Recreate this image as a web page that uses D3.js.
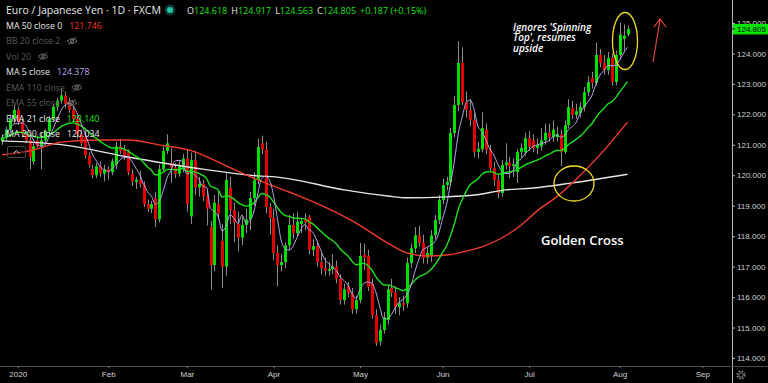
<!DOCTYPE html>
<html><head><meta charset="utf-8">
<script src="https://cdn.jsdelivr.net/npm/d3@7"></script>
<style>html,body{margin:0;padding:0;background:#000;overflow:hidden}</style>
</head><body>
<svg id="c" width="768" height="383"></svg>
<script>
// ---- data (EUR/JPY daily) ----
const opens = [121.10,121.25,121.50,121.85,122.15,121.75,121.35,121.15,120.45,121.15,
120.95,121.15,121.45,121.85,122.25,122.45,122.62,122.40,122.15,121.85,
121.35,121.25,120.65,120.20,120.00,120.30,120.05,120.20,120.10,120.35,
120.95,120.85,120.75,120.05,119.78,119.85,119.68,119.05,118.90,119.25,
118.55,120.20,120.80,120.40,120.25,120.05,120.20,120.55,118.65,120.50,
119.60,119.72,119.30,118.30,117.05,119.05,117.85,117.00,119.60,118.85,
118.40,117.95,118.37,118.55,119.25,119.85,121.05,120.85,118.96,118.60,
117.45,117.05,117.15,117.70,118.37,118.10,118.40,118.55,118.63,117.55,
117.68,117.15,116.95,116.86,116.92,117.00,116.60,115.90,116.36,116.13,
115.60,115.90,117.40,117.35,116.46,115.41,114.55,114.92,115.25,116.30,
116.15,115.67,115.80,115.80,117.12,117.60,118.03,117.78,117.30,117.35,
118.03,118.53,119.19,119.68,119.78,121.39,122.31,123.69,122.40,122.15,
121.82,120.77,120.85,121.50,120.83,120.24,119.85,119.42,120.34,120.42,
120.30,120.10,120.77,120.75,121.22,121.15,120.90,120.95,121.15,121.40,
121.25,121.25,121.35,120.77,121.65,122.20,121.98,122.05,122.24,122.73,
123.20,123.03,123.95,123.69,123.45,123.85,123.06,123.95,124.48,124.618];
const highs = [121.35,121.60,122.00,122.30,122.25,121.85,121.45,121.25,121.05,121.30,
121.40,121.50,121.95,122.35,122.55,122.85,122.75,122.55,122.25,121.95,
121.50,121.40,120.75,120.35,120.40,120.45,120.35,120.30,120.55,121.10,
121.20,121.00,120.85,120.20,119.95,120.15,119.80,119.20,119.15,119.45,
120.35,120.95,121.35,120.90,120.40,120.50,120.70,120.85,120.75,120.80,
119.95,119.85,119.50,118.50,119.35,119.50,118.40,120.10,119.95,119.10,
118.80,118.65,118.90,119.45,120.10,121.20,121.30,121.10,119.10,118.90,
117.70,117.40,117.80,118.70,118.75,118.80,118.60,118.75,118.70,117.90,
117.85,117.45,117.30,117.15,117.40,117.20,116.75,116.45,116.50,116.30,
116.05,117.78,117.75,117.55,116.60,115.60,115.10,115.50,116.40,116.60,
116.35,116.00,116.05,117.30,117.75,118.30,118.35,118.05,117.65,118.20,
118.70,119.35,119.90,119.95,121.55,122.60,124.40,124.20,122.75,122.50,
122.05,121.10,122.08,121.70,121.00,120.45,120.00,120.50,121.05,120.60,
120.55,120.85,121.05,121.40,121.45,121.35,121.20,121.55,121.70,121.70,
121.80,121.60,121.50,121.80,122.50,122.45,122.35,122.40,122.90,123.25,
123.40,124.35,124.15,123.95,124.05,124.00,124.10,125.00,124.95,124.917];
const lows = [121.00,121.15,121.40,121.70,121.65,121.25,121.05,120.20,120.35,120.90,
120.20,121.00,121.35,121.75,122.10,122.35,122.20,122.05,121.75,121.20,
120.95,120.55,120.25,119.90,119.90,119.95,119.80,119.85,120.00,120.20,
120.70,120.50,120.00,119.65,119.55,119.60,118.95,118.80,118.75,118.30,
118.45,120.10,120.70,119.75,119.90,119.95,120.10,118.80,118.40,119.35,
119.30,119.15,118.35,116.25,116.85,118.55,116.30,116.70,118.40,117.80,
117.50,117.70,118.10,118.20,119.00,119.70,120.70,118.75,118.05,117.20,
116.35,116.85,116.95,117.55,117.90,118.00,118.10,118.20,117.40,117.35,
117.00,116.75,116.70,116.70,116.75,116.45,115.75,115.75,116.00,115.45,
115.45,115.80,116.90,116.20,115.30,114.40,114.40,114.80,115.10,116.00,
115.45,115.40,115.55,115.65,116.95,117.45,117.65,117.10,117.10,117.15,
117.90,118.40,119.05,119.50,119.65,121.25,122.10,122.30,121.90,121.60,
120.60,120.55,120.75,120.70,120.10,119.65,119.25,119.30,120.20,119.90,
119.95,119.75,120.60,120.65,120.80,120.75,120.70,120.80,121.00,121.10,
121.10,121.10,120.30,120.70,121.55,121.85,121.85,121.90,122.10,122.60,
122.85,122.95,123.55,123.30,123.30,122.95,122.95,123.80,124.10,124.563];
const closes = [121.25,121.50,121.85,122.15,121.75,121.35,121.15,120.60,120.95,120.95,
121.15,121.45,121.85,122.25,122.45,122.62,122.35,122.15,121.85,121.35,
121.05,120.65,120.35,120.00,120.30,120.05,120.20,120.10,120.45,120.95,
120.80,120.65,120.10,119.80,119.85,119.70,119.05,118.90,119.05,118.55,
120.20,120.80,121.05,120.25,120.05,120.30,120.55,119.05,120.50,119.60,
119.72,119.30,118.90,117.05,119.10,118.75,117.00,119.85,118.85,118.45,
117.95,118.37,118.55,119.25,119.85,120.93,120.85,118.96,118.60,117.45,
117.05,117.15,117.70,118.37,118.10,118.47,118.50,118.45,117.55,117.68,
117.15,116.95,116.86,116.92,117.00,116.60,115.90,116.26,116.13,115.60,
115.90,117.35,117.30,116.33,115.41,114.50,114.92,115.33,116.26,116.15,
115.67,115.80,115.73,117.12,117.60,118.03,117.78,117.28,117.45,118.03,
118.53,119.19,119.68,119.78,121.39,122.31,123.69,122.40,122.15,121.82,
120.77,120.87,121.55,120.83,120.24,119.85,119.42,120.34,120.42,120.30,
120.36,120.77,120.90,121.22,120.93,120.90,121.00,121.15,121.40,121.25,
121.50,121.35,120.77,121.65,122.24,121.98,122.10,122.24,122.73,123.06,
123.03,123.95,123.69,123.45,123.85,123.06,123.95,124.62,124.58,124.805];

const startDate = "2019-12-26";
const monthTickDates = ["2020-01-01","2020-02-03","2020-03-02","2020-04-01","2020-05-01","2020-06-01","2020-07-01","2020-08-03","2020-09-01"];
const monthTickLabels = ["2020","Feb","Mar","Apr","May","Jun","Jul","Aug","Sep"];
const priceTicks = [114,115,116,117,118,119,120,121,122,123,124,125];

const ma50Idx = [0,8,15,25,32,40,49,57,65,73,82,90,98,103,108,113,118,122,127,131,137,141,145,152,159];
const ma50Val = [120.67,120.83,121.09,121.16,121.16,121.0,120.77,120.31,119.85,119.45,118.96,118.43,117.78,117.45,117.35,117.38,117.51,117.65,117.94,118.27,118.93,119.29,119.75,120.67,121.746];
const ma200Idx = [0,16,32,49,65,70,87,98,103,113,120,128,135,145,159];
const ma200Val = [121.13,120.99,120.6,120.24,119.98,119.94,119.52,119.32,119.26,119.29,119.35,119.52,119.58,119.75,120.034];
const ema21Seed = 121.22;

const headerOHLC = [["O","124.618"],["H","124.917"],["L","124.563"],["C","124.805"]];
const headerChange = "+0.187 (+0.15%)";
const legendRows = [
  {label:"MA 50 close 0", value:"121.746", color:"#f23a2e", on:true},
  {label:"BB 20 close 2", value:null, on:false},
  {label:"Vol 20", value:null, on:false},
  {label:"MA 5 close", value:"124.378", color:"#b7a6e8", on:true},
  {label:"EMA 110 close", value:null, on:false},
  {label:"EMA 55 close", value:null, on:false},
  {label:"EMA 21 close", value:"123.140", color:"#1de21d", on:true},
  {label:"MA 200 close", value:"120.034", color:"#e6e6e6", on:true}
];
const lastPrice = "124.805";

// ---- helpers ----
function weekdayIndex(ds){
  const s = new Date(startDate+"T00:00:00Z"), e = new Date(ds+"T00:00:00Z");
  let n=0; for(let d=new Date(s); d<e; d.setUTCDate(d.getUTCDate()+1)){const w=d.getUTCDay(); if(w!==0&&w!==6) n++;}
  return n;
}
const bars = closes.map((c,i)=>({i,o:opens[i],h:highs[i],l:lows[i],c}));
const ma5 = closes.map((c,i)=>{const s=closes.slice(Math.max(0,i-4),i+1);return d3.mean(s);});
const k=2/22; const ema21=[]; closes.forEach((c,i)=>{ema21.push(i===0?ema21Seed:ema21[i-1]+k*(c-ema21[i-1]));});

const svg = d3.select("#c");
const W=768,H=383, plotR=732, plotB=366;
svg.append("rect").attr("width",W).attr("height",H).attr("fill","#000");

const x = d3.scaleLinear().domain([0,159]).range([2,627.5]);
const y = d3.scaleLinear().domain([114,125]).range([358,23]);

svg.append("defs").append("clipPath").attr("id","clip").append("rect").attr("x",0).attr("y",0).attr("width",plotR).attr("height",plotB);
const plot = svg.append("g").attr("clip-path","url(#clip)");

// candles
const up="#00e000", dn="#e50000";
plot.selectAll(".wick").data(bars).join("line")
  .attr("x1",d=>Math.round(x(d.i))+0.5).attr("x2",d=>Math.round(x(d.i))+0.5)
  .attr("y1",d=>y(d.h)).attr("y2",d=>y(d.l)).attr("stroke","#8c8c8c").attr("stroke-width",1);
plot.selectAll(".body").data(bars).join("rect")
  .attr("x",d=>Math.round(x(d.i))-1).attr("width",3)
  .attr("y",d=>y(Math.max(d.o,d.c))).attr("height",d=>Math.max(1,Math.abs(y(d.o)-y(d.c))))
  .attr("fill",d=>d.c>=d.o?up:dn);

// moving averages
const lineIdx = d3.line().x(d=>x(d[0])).y(d=>y(d[1])).curve(d3.curveMonotoneX);
plot.append("path").datum(ma200Idx.map((v,j)=>[v,ma200Val[j]])).attr("d",lineIdx).attr("fill","none").attr("stroke","#e6e6e6").attr("stroke-width",1.4);
plot.append("path").datum(ma50Idx.map((v,j)=>[v,ma50Val[j]])).attr("d",lineIdx).attr("fill","none").attr("stroke","#f23a2e").attr("stroke-width",1.4);
plot.append("path").datum(ema21.map((v,j)=>[j,v])).attr("d",lineIdx).attr("fill","none").attr("stroke","#1de21d").attr("stroke-width",1.4);
plot.append("path").datum(ma5.map((v,j)=>[j,v])).attr("d",lineIdx).attr("fill","none").attr("stroke","#b7a6e8").attr("stroke-width",1);

// annotations
const ann = svg.append("g");
ann.append("ellipse").attr("cx",625).attr("cy",41).attr("rx",12.5).attr("ry",28.5).attr("fill","none").attr("stroke","#f2df2a").attr("stroke-width",1.3);
ann.append("ellipse").attr("cx",574).attr("cy",183.5).attr("rx",20).attr("ry",17.5).attr("fill","none").attr("stroke","#f2df2a").attr("stroke-width",1.3);
ann.append("line").attr("x1",653).attr("y1",62).attr("x2",660).attr("y2",20).attr("stroke","#e8453c").attr("stroke-width",1.2);
ann.append("path").attr("d","M654,27 L660,19 L666,27").attr("fill","none").attr("stroke","#e8453c").attr("stroke-width",1.2);
const t1 = ann.append("text").attr("x",513).attr("font-family","'Open Sans',sans-serif").attr("font-size",10).attr("font-style","italic").attr("font-weight",600).attr("fill","#fff");
["Ignores 'Spinning","Top', resumes","upside"].forEach((s,j)=>t1.append("tspan").attr("x",513).attr("y",30.5+j*10.6).text(s));
ann.append("text").attr("x",541).attr("y",245).attr("font-family","'Open Sans',sans-serif").attr("font-size",13).attr("font-weight",600).attr("fill","#fff").text("Golden Cross");

// axes
const AF="'Liberation Sans',Arial,sans-serif";
svg.append("line").attr("x1",plotR+0.5).attr("x2",plotR+0.5).attr("y1",0).attr("y2",H).attr("stroke","#b4b4b4");
svg.append("line").attr("x1",0).attr("x2",W).attr("y1",plotB+0.5).attr("y2",plotB+0.5).attr("stroke","#4a4a4a");
const yAxis = svg.append("g").attr("transform",`translate(${plotR},0)`)
  .call(d3.axisRight(y).tickValues(priceTicks).tickFormat(d3.format(".3f")).tickSize(3).tickPadding(2));
yAxis.select(".domain").remove();
yAxis.selectAll("line").attr("stroke","#b4b4b4");
yAxis.selectAll("text").attr("fill","#d0d0d0").attr("font-size",8).attr("font-family",AF);

const tickIdx = monthTickDates.map(weekdayIndex);
const xAxis = svg.append("g").attr("transform",`translate(0,${plotB})`)
  .call(d3.axisBottom(x).tickValues(tickIdx).tickFormat((d,j)=>monthTickLabels[j]).tickSize(2).tickPadding(3));
xAxis.select(".domain").remove();
xAxis.selectAll("line").attr("stroke","#777");
xAxis.selectAll("text").attr("fill","#d0d0d0").attr("font-size",8).attr("font-family",AF);

// price tag
const ty = y(+lastPrice);
svg.append("rect").attr("x",plotR+1).attr("y",ty-5).attr("width",W-plotR-1).attr("height",10.5).attr("fill","#00e600");
svg.append("line").attr("x1",plotR).attr("x2",plotR+3).attr("y1",ty).attr("y2",ty).attr("stroke","#000");
svg.append("text").attr("x",737).attr("y",ty+3).attr("font-size",8).attr("font-family",AF).attr("fill","#000").text(lastPrice);

// gear icon
const gear = svg.append("g").attr("transform","translate(741,375)");
gear.append("circle").attr("r",3.8).attr("fill","none").attr("stroke","#8a8a8a").attr("stroke-width",1.6).attr("stroke-dasharray","1.6 1.4");
gear.append("circle").attr("r",2.2).attr("fill","none").attr("stroke","#8a8a8a").attr("stroke-width",0.9);

// header
const F="'Open Sans',sans-serif";
svg.append("text").attr("x",6).attr("y",14).attr("font-family",F).attr("font-size",10.5).attr("fill","#e8e8e8").text("Euro / Japanese Yen · 1D · FXCM");
svg.append("circle").attr("cx",170).attr("cy",10).attr("r",5.5).attr("fill","#0f3b36");
svg.append("circle").attr("cx",170).attr("cy",10).attr("r",3).attr("fill","#26c6a6");
const hdr = svg.append("text").attr("x",187).attr("y",13.5).attr("font-family",F).attr("font-size",9);
headerOHLC.forEach(([l,v],j)=>{hdr.append("tspan").attr("fill","#e8e8e8").attr("dx",j?4:0).text(l);hdr.append("tspan").attr("fill","#1de21d").text(v);});
hdr.append("tspan").attr("fill","#1de21d").attr("dx",4).text(headerChange);

// legend rows
function eye(g,cx,cy){
  const e=g.append("g").attr("transform",`translate(${cx},${cy})`).attr("stroke","#6a6a6a").attr("fill","none").attr("stroke-width",1);
  e.append("path").attr("d","M-5,0 Q0,-5 5,0 Q0,5 -5,0 Z");
  e.append("circle").attr("r",1.6);
  e.append("line").attr("x1",-4).attr("y1",4).attr("x2",4).attr("y2",-4);
}
const leg = svg.append("g");
legendRows.forEach((r,j)=>{
  const cy = 25.5 + j*15.5;
  const t = leg.append("text").attr("x",6).attr("y",cy+3).attr("font-family",F).attr("font-size",8.8).attr("fill",r.on?"#e8e8e8":"#5a5a5a").text(r.label);
  const w = t.node().getComputedTextLength();
  if(r.value){
    leg.append("text").attr("x",6+w+7).attr("y",cy+3).attr("font-family",F).attr("font-size",8.8).attr("fill",r.color).text(r.value);
  } else {
    eye(leg,6+w+12,cy);
  }
});
// collapse button
leg.append("rect").attr("x",7.5).attr("y",146.5).attr("width",18).attr("height",11).attr("rx",1.5).attr("fill","#000").attr("fill-opacity",0.4).attr("stroke","#444");
leg.append("path").attr("d","M13.5,153.5 L16.5,150.5 L19.5,153.5").attr("fill","none").attr("stroke","#cfcfcf").attr("stroke-width",1);
</script>
</body></html>
